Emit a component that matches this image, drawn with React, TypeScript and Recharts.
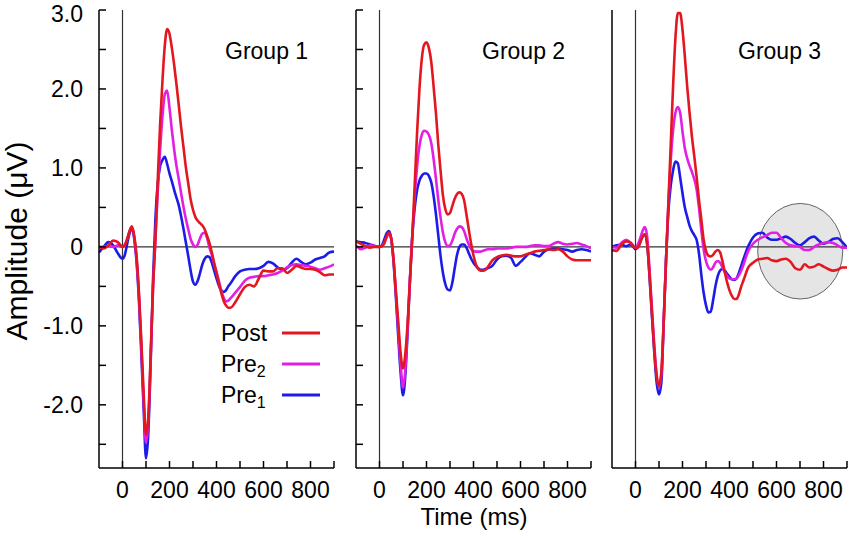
import React from 'react';
import { LineChart, Line, XAxis, YAxis, ReferenceLine, ReferenceArea } from 'recharts';

// Sampling grid (ms)
const TIME = [
  -100, -80, -60, -40, -20, 0,
  10, 20, 30, 40, 50, 60, 70, 80, 90, 100,
  110, 120, 130, 140, 150, 160, 170, 180, 190, 200,
  210, 220, 230, 240, 250, 260, 270, 280, 290, 300,
  310, 320, 330, 340, 350, 360, 370, 380, 390, 400,
  410, 420, 430, 440, 450, 460,
  480, 500, 520, 540, 560, 580, 600, 620, 640, 660, 680, 700, 720, 740, 760, 780, 800, 820, 840, 860, 880, 900,
];

// Group 1 (µV)
const G1_POST = [
  0.00, -0.02, 0.02, 0.08, 0.06, 0.00,
  0.02, 0.10, 0.20, 0.26, 0.14, -0.12, -0.58, -1.18, -1.85, -2.38,
  -2.15, -1.35, -0.50, 0.10, 0.85, 1.55, 2.10, 2.55, 2.76, 2.70,
  2.52, 2.30, 2.05, 1.78, 1.50, 1.25, 1.00, 0.80, 0.60, 0.47,
  0.38, 0.33, 0.30, 0.27, 0.22, 0.14, 0.05, -0.07, -0.20, -0.33,
  -0.46, -0.58, -0.68, -0.74, -0.77, -0.77,
  -0.70, -0.60, -0.51, -0.48, -0.50, -0.40, -0.30, -0.31, -0.31, -0.27, -0.27, -0.33, -0.29, -0.24, -0.26, -0.28, -0.28, -0.29, -0.32, -0.36, -0.35, -0.35,
];
const G1_PRE2 = [
  0.00, 0.00, 0.01, 0.00, 0.02, 0.00,
  0.03, 0.10, 0.20, 0.25, 0.12, -0.15, -0.62, -1.25, -1.95, -2.48,
  -2.20, -1.40, -0.52, 0.08, 0.70, 1.22, 1.65, 1.93, 1.98, 1.76,
  1.48, 1.23, 1.02, 0.85, 0.67, 0.50, 0.35, 0.22, 0.10, 0.03,
  0.00, 0.03, 0.11, 0.17, 0.18, 0.11, -0.01, -0.10, -0.22, -0.32,
  -0.43, -0.55, -0.64, -0.69, -0.68, -0.65,
  -0.58, -0.51, -0.43, -0.39, -0.38, -0.37, -0.37, -0.36, -0.35, -0.33, -0.30, -0.26, -0.23, -0.22, -0.23, -0.24, -0.25, -0.27, -0.29, -0.27, -0.25, -0.22,
];
const G1_PRE1 = [
  -0.07, 0.00, 0.06, 0.02, -0.08, -0.15,
  -0.10, 0.04, 0.17, 0.24, 0.10, -0.20, -0.68, -1.35, -2.05, -2.68,
  -2.35, -1.45, -0.40, 0.35, 0.80, 1.02, 1.10, 1.14, 1.05, 0.93,
  0.83, 0.72, 0.62, 0.52, 0.38, 0.22, 0.05, -0.12, -0.30, -0.44,
  -0.48, -0.43, -0.33, -0.22, -0.15, -0.12, -0.13, -0.20, -0.30, -0.40,
  -0.49, -0.55, -0.57, -0.55, -0.50, -0.46,
  -0.37, -0.31, -0.29, -0.28, -0.28, -0.27, -0.24, -0.19, -0.21, -0.26, -0.29, -0.27, -0.20, -0.15, -0.19, -0.22, -0.20, -0.16, -0.14, -0.12, -0.07, -0.06,
];

// Group 2 (µV)
const G2_POST = [
  0.07, 0.04, 0.01, -0.01, 0.00, 0.00,
  0.01, 0.04, 0.13, 0.18, 0.11, -0.17, -0.57, -0.96, -1.35, -1.54,
  -1.35, -0.95, -0.40, 0.15, 0.80, 1.45, 2.00, 2.38, 2.56, 2.59,
  2.52, 2.35, 2.04, 1.70, 1.30, 0.96, 0.65, 0.48, 0.41, 0.43,
  0.52, 0.61, 0.67, 0.69, 0.67, 0.59, 0.41, 0.22, 0.04, -0.11,
  -0.22, -0.28, -0.30, -0.30, -0.29, -0.26,
  -0.17, -0.13, -0.11, -0.10, -0.11, -0.12, -0.12, -0.10, -0.08, -0.06, -0.05, -0.04, -0.03, -0.04, -0.03, -0.06, -0.12, -0.16, -0.17, -0.17, -0.17, -0.17,
];
const G2_PRE2 = [
  0.02, -0.03, -0.01, 0.02, 0.01, 0.00,
  0.01, 0.05, 0.12, 0.16, 0.10, -0.17, -0.60, -1.05, -1.50, -1.78,
  -1.55, -1.00, -0.38, 0.18, 0.65, 1.02, 1.28, 1.42, 1.47, 1.46,
  1.42, 1.32, 1.12, 0.87, 0.60, 0.37, 0.18, 0.06, 0.01, 0.02,
  0.08, 0.17, 0.23, 0.26, 0.25, 0.20, 0.11, 0.03, -0.03, -0.05,
  -0.06, -0.06, -0.06, -0.05, -0.04, -0.03,
  -0.03, -0.02, -0.02, -0.02, -0.01, 0.00, 0.00, 0.00, 0.01, 0.02, 0.02, 0.01, 0.01, 0.04, 0.06, 0.04, 0.03, 0.04, 0.05, 0.03, 0.01, -0.02,
];
const G2_PRE1 = [
  0.07, 0.06, 0.05, 0.03, 0.01, 0.00,
  0.02, 0.09, 0.17, 0.20, 0.10, -0.20, -0.65, -1.15, -1.60, -1.88,
  -1.62, -1.05, -0.40, 0.15, 0.50, 0.72, 0.84, 0.90, 0.93, 0.93,
  0.90, 0.82, 0.65, 0.42, 0.15, -0.12, -0.33, -0.47, -0.54, -0.55,
  -0.45, -0.27, -0.10, 0.00, 0.03, 0.03, -0.01, -0.08, -0.15, -0.20,
  -0.24, -0.27, -0.29, -0.29, -0.28, -0.27,
  -0.24, -0.16, -0.12, -0.11, -0.14, -0.24, -0.19, -0.13, -0.08, -0.10, -0.12, -0.06, -0.03, -0.02, -0.02, -0.03, -0.04, -0.06, -0.04, -0.03, -0.04, -0.06,
];

// Group 3 (µV)
const G3_POST = [
  -0.04, -0.05, 0.03, 0.07, 0.05, -0.01,
  -0.01, 0.05, 0.13, 0.16, 0.02, -0.37, -0.84, -1.30, -1.64, -1.76,
  -1.58, -0.95, -0.18, 0.56, 1.30, 2.04, 2.65, 2.96, 2.96, 2.75,
  2.41, 2.03, 1.70, 1.40, 1.15, 0.89, 0.60, 0.35, 0.09, -0.05,
  -0.11, -0.12, -0.10, -0.06, -0.04, -0.07, -0.18, -0.32, -0.45, -0.55,
  -0.62, -0.66, -0.66, -0.60, -0.50, -0.42,
  -0.26, -0.20, -0.16, -0.15, -0.14, -0.17, -0.18, -0.16, -0.15, -0.19, -0.27, -0.29, -0.22, -0.26, -0.25, -0.22, -0.25, -0.28, -0.30, -0.29, -0.26, -0.26,
];
const G3_PRE2 = [
  0.00, -0.01, 0.05, 0.09, 0.05, -0.01,
  0.03, 0.11, 0.20, 0.25, 0.12, -0.30, -0.78, -1.25, -1.62, -1.78,
  -1.62, -0.95, -0.15, 0.55, 1.10, 1.48, 1.70, 1.77, 1.70, 1.46,
  1.25, 1.12, 1.03, 0.95, 0.86, 0.73, 0.50, 0.22, -0.03, -0.18,
  -0.26, -0.29, -0.26, -0.20, -0.18, -0.20, -0.26, -0.32, -0.37, -0.40,
  -0.41, -0.41, -0.40, -0.36, -0.30, -0.22,
  -0.05, 0.04, 0.09, 0.12, 0.15, 0.18, 0.18, 0.11, 0.05, 0.02, 0.01, 0.00, -0.04, -0.04, 0.00, 0.03, 0.05, 0.06, 0.05, 0.02, -0.01, -0.01,
];
const G3_PRE1 = [
  0.00, 0.02, 0.03, 0.01, 0.03, -0.03,
  0.00, 0.07, 0.13, 0.16, 0.03, -0.39, -0.88, -1.34, -1.72, -1.87,
  -1.72, -0.95, -0.15, 0.45, 0.78, 0.97, 1.08, 1.06, 0.88, 0.68,
  0.50, 0.38, 0.27, 0.20, 0.15, 0.09, -0.08, -0.35, -0.58, -0.74,
  -0.83, -0.82, -0.68, -0.50, -0.37, -0.30, -0.28, -0.30, -0.34, -0.38,
  -0.41, -0.42, -0.40, -0.33, -0.24, -0.15,
  0.01, 0.12, 0.17, 0.18, 0.12, 0.09, 0.09, 0.11, 0.13, 0.10, 0.05, 0.02, 0.06, 0.11, 0.13, 0.08, 0.04, 0.06, 0.10, 0.11, 0.06, -0.01,
];

const X_TICKS = [0, 100, 200, 300, 400, 500, 600, 700, 800, 900];
const X_LABELS = [0, 200, 400, 600, 800];
const Y_TICKS = [-2.5, -2, -1.5, -1, -0.5, 0, 0.5, 1, 1.5, 2, 2.5, 3];
const Y_LABELS = [-2, -1, 0, 1, 2, 3];
const GROUP_NAMES = ['Group 1', 'Group 2', 'Group 3'];
const CIRCLE_X = [520, 882];
const CIRCLE_Y = [-0.66, 0.55];

const COLORS = { post: '#e3171f', pre2: '#e31fe3', pre1: '#1c1ce6' };
const FONT = '"Liberation Sans", Arial, Helvetica, sans-serif';

function buildRows(post: number[], pre2: number[], pre1: number[]) {
  return TIME.map((t, i) => ({ t, post: post[i], pre2: pre2[i], pre1: pre1[i] }));
}

const PANELS = [
  { rows: buildRows(G1_POST, G1_PRE2, G1_PRE1), left: 0, width: 345, yWidth: 99, right: 11, yMode: 'labels', circle: false },
  { rows: buildRows(G2_POST, G2_PRE2, G2_PRE1), left: 296, width: 300, yWidth: 60, right: 5, yMode: 'marks', circle: false },
  { rows: buildRows(G3_POST, G3_PRE2, G3_PRE1), left: 552, width: 298, yWidth: 60, right: 3, yMode: 'none', circle: true },
];

const xFmt = (v: number) => (X_LABELS.includes(v) ? String(v) : '');
const yLabel = (v: number) => {
  const hit = Y_LABELS.find((l) => Math.abs(l - v) < 1e-9);
  if (hit === undefined) return '';
  return hit === 0 ? '0' : hit.toFixed(1);
};

const YTick = (p: any) => {
  const v = p.payload?.value;
  const label = yLabel(v);
  if (!label) return <g />;
  // the top label sits slightly below its tick so it stays inside the picture
  const shift = Math.abs(v - 3) < 1e-9 ? 4 : 0;
  return (
    <text x={p.x} y={p.y + shift} dy="0.36em" textAnchor="end" fontSize={23} fontFamily={FONT} fill="#000">
      {label}
    </text>
  );
};

const Ellipse = (p: any) => (
  <ellipse
    cx={p.x + p.width / 2}
    cy={p.y + p.height / 2}
    rx={Math.abs(p.width) / 2}
    ry={Math.abs(p.height) / 2}
    fill="#e5e5e5"
    stroke="#555"
    strokeWidth={0.9}
  />
);

function Panel({ cfg }: { cfg: (typeof PANELS)[number] }) {
  const axisStyle = { stroke: '#000', strokeWidth: 1.5 };
  const tickStyle = { fill: '#000', fontSize: 23, fontFamily: FONT };
  return (
    <div style={{ position: 'absolute', left: cfg.left, top: 0 }}>
      <LineChart
        width={cfg.width}
        height={538}
        data={cfg.rows}
        margin={{ top: 10, right: cfg.right, bottom: 0, left: 0 }}
      >
        <XAxis
          dataKey="t"
          type="number"
          domain={[-100, 900]}
          allowDataOverflow
          ticks={X_TICKS}
          interval={0}
          tickFormatter={xFmt}
          tickSize={-7}
          tickMargin={21}
          height={70}
          axisLine={axisStyle}
          tickLine={axisStyle}
          tick={tickStyle}
        />
        <YAxis
          type="number"
          domain={[-2.8, 3.0]}
          allowDataOverflow
          ticks={Y_TICKS}
          interval={0}
          width={cfg.yWidth}
          tickSize={-7}
          tickMargin={23}
          axisLine={axisStyle}
          tickLine={cfg.yMode === 'none' ? false : axisStyle}
          tick={cfg.yMode === 'labels' ? <YTick /> : cfg.yMode === 'marks' ? () => <g /> : false}
        />
        <ReferenceLine y={0} stroke="#333" strokeWidth={1.1} />
        <ReferenceLine x={0} stroke="#333" strokeWidth={1.2} />
        {cfg.circle && (
          <ReferenceArea
            x1={CIRCLE_X[0]}
            x2={CIRCLE_X[1]}
            y1={CIRCLE_Y[0]}
            y2={CIRCLE_Y[1]}
            shape={Ellipse}
          />
        )}
        <Line dataKey="pre1" stroke={COLORS.pre1} strokeWidth={2.6} type="monotone" dot={false} activeDot={false} isAnimationActive={false} />
        <Line dataKey="pre2" stroke={COLORS.pre2} strokeWidth={2.6} type="monotone" dot={false} activeDot={false} isAnimationActive={false} />
        <Line dataKey="post" stroke={COLORS.post} strokeWidth={2.6} type="monotone" dot={false} activeDot={false} isAnimationActive={false} />
      </LineChart>
    </div>
  );
}

const GROUP_X = [225, 482, 738];
const LEGEND = [
  { name: 'Post', sub: '', color: COLORS.post, y: 333 },
  { name: 'Pre', sub: '2', color: COLORS.pre2, y: 364 },
  { name: 'Pre', sub: '1', color: COLORS.pre1, y: 395 },
];

export default function App() {
  return (
    <div style={{ position: 'absolute', left: 0, top: 0, width: 850, height: 538, background: '#fff', overflow: 'hidden' }}>
      {PANELS.map((p, i) => (
        <Panel key={i} cfg={p} />
      ))}
      <svg width={850} height={538} style={{ position: 'absolute', left: 0, top: 0, pointerEvents: 'none' }}>
        <g fontFamily={FONT} fill="#000">
          {GROUP_NAMES.map((g, i) => (
            <text key={g} x={GROUP_X[i]} y={59} fontSize={23}>
              {g}
            </text>
          ))}
          {LEGEND.map((l) => (
            <g key={l.name + l.sub}>
              <text x={221} y={l.y + 8} fontSize={23}>
                {l.name}
                {l.sub && (
                  <tspan fontSize={16} dy={5}>
                    {l.sub}
                  </tspan>
                )}
              </text>
              <line x1={282} x2={320} y1={l.y} y2={l.y} stroke={l.color} strokeWidth={3} />
            </g>
          ))}
          <text x={474} y={525} fontSize={24} textAnchor="middle">
            Time (ms)
          </text>
          <text x={0} y={0} fontSize={30} textAnchor="middle" transform="translate(27,241) rotate(-90)">
            Amplitude (μV)
          </text>
        </g>
      </svg>
    </div>
  );
}
